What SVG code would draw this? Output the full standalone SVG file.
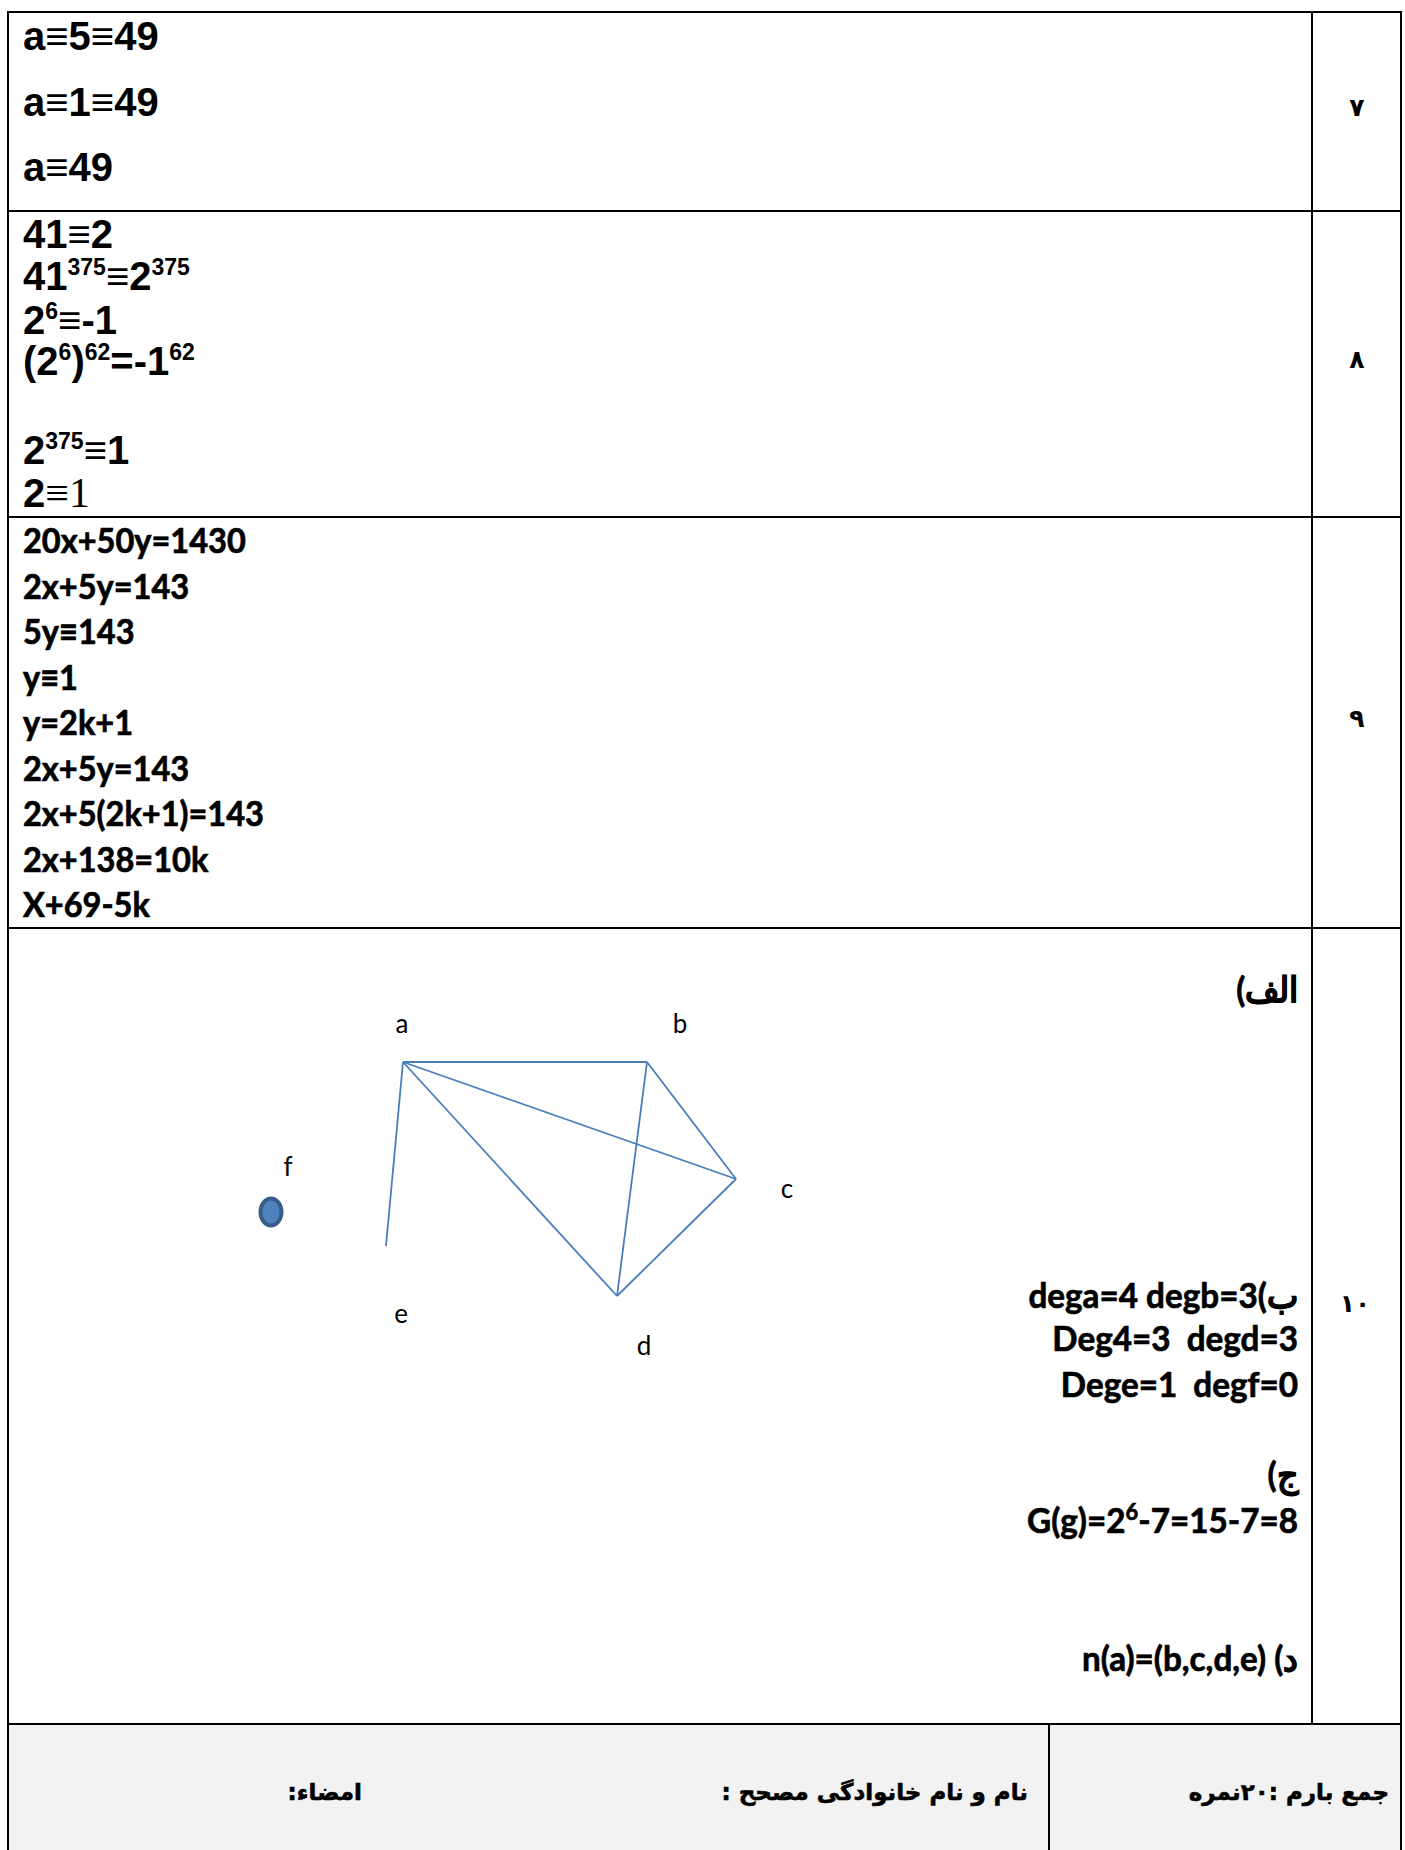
<svg xmlns="http://www.w3.org/2000/svg" width="1405" height="1850" viewBox="0 0 1405 1850">
<style>
.grid{stroke:#000;stroke-width:2;fill:none}
.ar{font-family:"Liberation Sans",Arial,sans-serif;font-weight:bold;font-size:40px;fill:#000}
.sup{font-size:23px}
.ca{font-family:Lato,"Open Sans",sans-serif;font-weight:bold;font-size:35px;fill:#000;stroke:#000;stroke-width:0.7;white-space:pre}
.lbl{font-family:Lato,"Open Sans",sans-serif;font-size:26px;fill:#000}
.fa{font-family:"DejaVu Sans",sans-serif;font-weight:bold;font-size:23px;fill:#000;stroke:#000;stroke-width:0.6}
.num{font-family:"DejaVu Sans",sans-serif;font-weight:bold;font-size:25px;fill:#000}
.edge{stroke:#4a7ebb;stroke-width:1.8;fill:none}
</style>
<rect x="0" y="0" width="1405" height="1850" fill="#fff"/>
<rect x="8" y="1724" width="1393" height="126" fill="#f2f2f2"/>
<g id="table">
<rect class="grid" x="8" y="12" width="1393" height="1900"/>
<line class="grid" x1="1312" y1="12" x2="1312" y2="1724"/>
<line class="grid" x1="8" y1="211" x2="1401" y2="211"/>
<line class="grid" x1="8" y1="517" x2="1401" y2="517"/>
<line class="grid" x1="8" y1="928" x2="1401" y2="928"/>
<line class="grid" x1="8" y1="1724" x2="1401" y2="1724" stroke-width="3"/>
<line class="grid" x1="1049" y1="1724" x2="1049" y2="1850"/>
</g>
<g id="q7">
<text class="ar" x="23" y="50">a≡5≡49</text>
<text class="ar" x="23" y="116">a≡1≡49</text>
<text class="ar" x="23" y="181">a≡49</text>
<text class="num" x="1357" y="116" text-anchor="middle">۷</text>
</g>
<g id="q8">
<text class="ar" x="23" y="248">41≡2</text>
<text class="ar" x="23" y="290">41<tspan class="sup" dy="-15">375</tspan><tspan dy="15">≡2</tspan><tspan class="sup" dy="-15">375</tspan></text>
<text class="ar" x="23" y="334">2<tspan class="sup" dy="-15">6</tspan><tspan dy="15">≡-1</tspan></text>
<text class="ar" x="23" y="375">(2<tspan class="sup" dy="-15">6</tspan><tspan dy="15">)</tspan><tspan class="sup" dy="-15">62</tspan><tspan dy="15">=-1</tspan><tspan class="sup" dy="-15">62</tspan></text>
<text class="ar" x="23" y="464">2<tspan class="sup" dy="-15">375</tspan><tspan dy="15">≡1</tspan></text>
<text class="ar" x="23" y="507">2<tspan font-family="'Liberation Serif',serif" font-weight="normal" font-size="42">≡1</tspan></text>
<text class="num" x="1357" y="368" text-anchor="middle">۸</text>
</g>
<g id="q9" transform="translate(23,0) scale(0.93,1)">
<text class="ca" x="0" y="553">20x+50y=1430</text>
<text class="ca" x="0" y="599">2x+5y=143</text>
<text class="ca" x="0" y="644">5y≡143</text>
<text class="ca" x="0" y="690">y≡1</text>
<text class="ca" x="0" y="735">y=2k+1</text>
<text class="ca" x="0" y="781">2x+5y=143</text>
<text class="ca" x="0" y="826">2x+5(2k+1)=143</text>
<text class="ca" x="0" y="872">2x+138=10k</text>
<text class="ca" x="0" y="917">X+69-5k</text>
</g>
<g id="q9num"><text class="num" x="1357" y="727" text-anchor="middle">۹</text></g>
<g id="q10" transform="translate(1298,0) scale(0.95,1)">
<text class="ca" x="0" y="1002" direction="rtl" text-anchor="start">الف)</text>
<text class="ca" x="0" y="1308" direction="rtl" text-anchor="start">ب)dega=4 degb=3</text>
<text class="ca" x="0" y="1351" text-anchor="end" xml:space="preserve">Deg4=3  degd=3</text>
<text class="ca" x="0" y="1397" text-anchor="end" xml:space="preserve">Dege=1  degf=0</text>
<text class="ca" x="0" y="1487" direction="rtl" text-anchor="start">ج)</text>
<text class="ca" x="0" y="1533" text-anchor="end">G(g)=2<tspan font-size="23" dy="-13">6</tspan><tspan dy="13">-7=15-7=8</tspan></text>
<text class="ca" x="0" y="1671" direction="rtl" text-anchor="start">د) n(a)=(b,c,d,e)</text>
</g>
<g id="q10num"><text class="num" x="1355" y="1312" text-anchor="middle">۱۰</text></g>
<g id="connectors">
<line class="edge" x1="403" y1="1062" x2="647" y2="1062"/>
<line class="edge" x1="403" y1="1062" x2="736" y2="1179"/>
<line class="edge" x1="403" y1="1062" x2="617" y2="1296"/>
<line class="edge" x1="403" y1="1062" x2="386" y2="1246"/>
<line class="edge" x1="647" y1="1062" x2="736" y2="1179"/>
<line class="edge" x1="647" y1="1062" x2="617" y2="1296"/>
<line class="edge" x1="736" y1="1179" x2="617" y2="1296"/>
</g>
<g id="node-a"><text class="lbl" x="402" y="1033" text-anchor="middle">a</text></g>
<g id="node-b"><text class="lbl" x="680" y="1033" text-anchor="middle">b</text></g>
<g id="node-c"><text class="lbl" x="787" y="1198" text-anchor="middle">c</text></g>
<g id="node-d"><text class="lbl" x="644" y="1355" text-anchor="middle">d</text></g>
<g id="node-e"><text class="lbl" x="401" y="1323" text-anchor="middle">e</text></g>
<g id="node-f"><text class="lbl" x="288" y="1176" text-anchor="middle">f</text>
<ellipse cx="271" cy="1212" rx="10.5" ry="13.5" fill="#4f81bd" stroke="#385d8a" stroke-width="4"/></g>
<g id="footer">
<text class="fa" x="1389" y="1800" direction="rtl" text-anchor="start">جمع بارم :۲۰نمره</text>
<text class="fa" x="1028" y="1800" direction="rtl" text-anchor="start">نام و نام خانوادگی مصحح :</text>
<text class="fa" x="362" y="1800" direction="rtl" text-anchor="start">امضاء:</text>
</g>
</svg>
